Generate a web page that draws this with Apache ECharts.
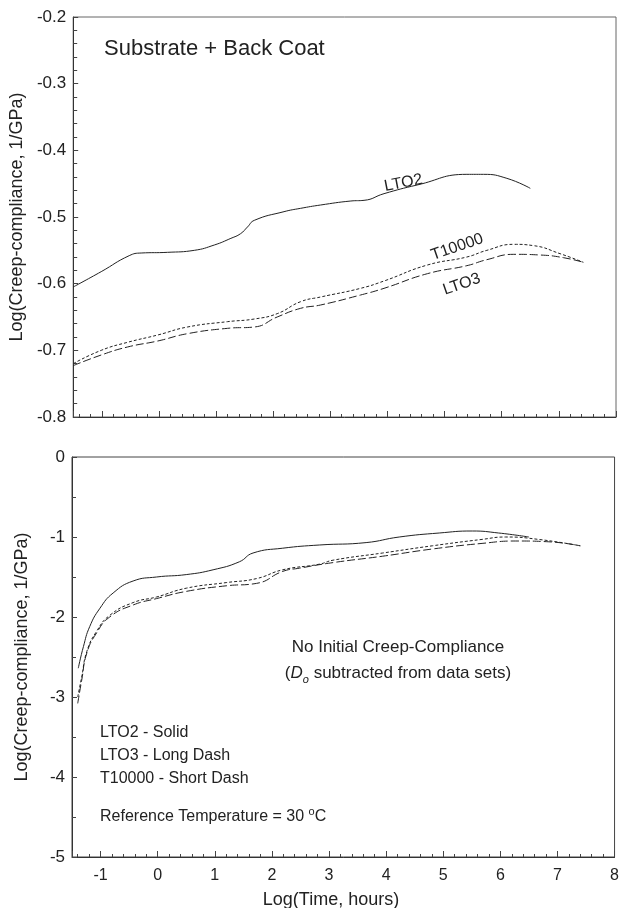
<!DOCTYPE html>
<html>
<head>
<meta charset="utf-8">
<script src="https://cdn.jsdelivr.net/npm/echarts@6/dist/echarts.min.js"></script>
<style>
html,body{margin:0;padding:0;background:#fff;}
#chart{width:622px;height:908px;}
</style>
</head>
<body>
<div id="chart"></div>
<script>
// ---- Data ----
const lto2TopX = [-1.5,-1.01,-0.52,-0.31,0.15,0.62,0.97,1.26,1.43,1.55,1.67,2.19,2.48,2.83,3.36,3.59,3.94,4.52,5.39,5.68,6.09,6.5];
const lto2TopY = [-0.605,-0.582,-0.558,-0.554,-0.553,-0.550,-0.542,-0.532,-0.525,-0.515,-0.505,-0.492,-0.487,-0.482,-0.476,-0.475,-0.465,-0.452,-0.436,-0.436,-0.442,-0.457];
const lto3TopX = [-1.5,-1.01,-0.55,-0.02,0.5,1.2,1.67,2.07,2.48,2.83,3.53,3.94,4.7,5.39,5.74,6.21,6.67,7.08,7.43];
const lto3TopY = [-0.723,-0.707,-0.695,-0.686,-0.675,-0.667,-0.665,-0.650,-0.637,-0.632,-0.617,-0.607,-0.585,-0.573,-0.564,-0.556,-0.557,-0.561,-0.568];
const t10000TopX = [-1.5,-1.01,-0.55,-0.02,0.5,1.2,1.67,2.07,2.48,2.83,3.53,3.94,4.7,5.39,5.74,6.21,6.56,7.02,7.43];
const t10000TopY = [-0.720,-0.700,-0.688,-0.677,-0.665,-0.657,-0.653,-0.645,-0.627,-0.620,-0.607,-0.596,-0.572,-0.560,-0.550,-0.541,-0.543,-0.555,-0.568];

const lto2BotX = [-1.39,-1.30,-1.19,-1.01,-0.78,-0.43,-0.02,0.5,0.97,1.43,1.67,2.19,2.83,3.65,4.23,4.93,5.51,5.97,6.5];
const lto2BotY = [-2.64,-2.37,-2.12,-1.89,-1.70,-1.55,-1.50,-1.47,-1.41,-1.31,-1.20,-1.14,-1.10,-1.07,-1.00,-0.95,-0.925,-0.95,-1.00];
const lto3BotX = [-1.40,-1.33,-1.24,-1.07,-0.84,-0.43,-0.02,0.5,1.2,1.73,2.19,2.48,3.07,3.94,4.81,5.68,6.27,6.85,7.40];
const lto3BotY = [-3.08,-2.79,-2.45,-2.20,-2.00,-1.85,-1.77,-1.68,-1.61,-1.58,-1.43,-1.39,-1.32,-1.24,-1.15,-1.08,-1.05,-1.06,-1.11];
const t10000BotX = [-1.40,-1.33,-1.24,-1.07,-0.84,-0.43,-0.02,0.5,1.2,1.73,2.19,2.83,3.07,3.94,4.81,5.68,6.09,6.67,7.40];
const t10000BotY = [-3.00,-2.75,-2.43,-2.18,-1.98,-1.82,-1.75,-1.64,-1.57,-1.52,-1.41,-1.34,-1.29,-1.20,-1.11,-1.03,-1.00,-1.03,-1.11];

const xMin = -1.5, xMax = 8;
const topYMin = -0.8, topYMax = -0.2, topYStep = 0.1;
const botYMin = -5, botYMax = 0, botYStep = 1;
const yTitle = 'Log(Creep-compliance, 1/GPa)';
const xTitle = 'Log(Time, hours)';

// curve label anchors (data coords)
const topLabels = [
  {text:'LTO2', x:4.28, y:-0.449, rot:11},
  {text:'T10000', x:5.22, y:-0.545, rot:19},
  {text:'LTO3', x:5.30, y:-0.601, rot:19}
];

// ---- Chart ----
const FONT = '"Liberation Sans", Arial, Helvetica, sans-serif';
const INK = '#222';
const chart = echarts.init(document.getElementById('chart'), null, {renderer:'canvas'});

function pair(xs, ys){ return xs.map((x,i)=>[x, ys[i]]); }

function xAxis(grid, labels){
  return {
    type:'value', gridIndex:grid, min:xMin, max:xMax, splitNumber:9,
    axisLine:{onZero:false, lineStyle:{color:'#333', width:1}},
    axisTick:{inside:true, length:6, lineStyle:{color:'#444'}},
    minorTick:{show:true, splitNumber:5, length:3, lineStyle:{color:'#444'}},
    splitLine:{show:false},
    axisLabel:{show:labels, fontSize:16, color:INK, fontFamily:FONT, margin:11,
      formatter:(v)=> Math.abs(v-Math.round(v))<1e-6 ? String(Math.round(v)) : ''}
  };
}
function yAxis(grid, min, max, step, minorSplit, dec){
  return {
    type:'value', gridIndex:grid, min:min, max:max, interval:step,
    name:yTitle, nameLocation:'middle', nameGap:41,
    nameTextStyle:{fontSize:18, color:INK, fontFamily:FONT},
    axisLine:{show:true, onZero:false, lineStyle:{color:'#333', width:1}},
    axisTick:{inside:true, length:5, lineStyle:{color:'#444'}},
    minorTick:{show:true, splitNumber:minorSplit, length:4, lineStyle:{color:'#444'}},
    splitLine:{show:false},
    axisLabel:{fontSize:17, color:INK, fontFamily:FONT, margin:7,
      formatter:(v)=> dec ? v.toFixed(dec) : String(Math.round(v))}
  };
}
function line(name, data, xi, yi, type){
  return {
    name:name, type:'line', xAxisIndex:xi, yAxisIndex:yi, data:data,
    showSymbol:false, smooth:0.5, silent:true,
    lineStyle:{color:INK, width:1, type:type}
  };
}

const option = {
  backgroundColor:'#fff',
  animation:false,
  grid:[
    {left:72, top:17, width:544, height:400, show:true, borderColor:'#666', borderWidth:1, backgroundColor:'transparent'},
    {left:72, top:457, width:544, height:400, show:true, borderColor:'#444', borderWidth:1, backgroundColor:'transparent'}
  ],
  xAxis:[xAxis(0,false), xAxis(1,true)],
  yAxis:[yAxis(0, topYMin, topYMax, topYStep, 5, 1), yAxis(1, botYMin, botYMax, botYStep, 2, 0)],
  series:[
    line('LTO2', pair(lto2TopX, lto2TopY), 0, 0, 'solid'),
    line('LTO3', pair(lto3TopX, lto3TopY), 0, 0, [8,3]),
    line('T10000', pair(t10000TopX, t10000TopY), 0, 0, [3,2]),
    line('LTO2', pair(lto2BotX, lto2BotY), 1, 1, 'solid'),
    line('LTO3', pair(lto3BotX, lto3BotY), 1, 1, [8,3]),
    line('T10000', pair(t10000BotX, t10000BotY), 1, 1, [3,2])
  ]
};
chart.setOption(option);

const g = [];
topLabels.forEach(l=>{
  const p = chart.convertToPixel({xAxisIndex:0, yAxisIndex:0}, [l.x, l.y]);
  g.push({type:'text', x:p[0], y:p[1], rotation:l.rot*Math.PI/180,
    style:{text:l.text, fontSize:16, fill:INK, fontFamily:FONT, align:'center', verticalAlign:'middle'}});
});
g.push({type:'text', x:331, y:900, style:{text:xTitle, fontSize:18, fill:INK, fontFamily:FONT, align:'center', verticalAlign:'middle'}});
g.push({type:'text', x:104, y:49, style:{text:'Substrate + Back Coat', fontSize:22, fill:INK, fontFamily:FONT, align:'left', verticalAlign:'middle'}});
g.push({type:'text', x:398, y:647, style:{text:'No Initial Creep-Compliance', fontSize:17, fill:INK, fontFamily:FONT, align:'center', verticalAlign:'middle'}});
g.push({type:'text', x:398, y:673, style:{
  text:'({d|D}{sub|o} subtracted from data sets)', fontSize:17, fill:INK, fontFamily:FONT, align:'center', verticalAlign:'middle',
  rich:{
    d:{fontSize:17, fontStyle:'italic', fontFamily:FONT, fill:INK, lineHeight:24, verticalAlign:'middle'},
    sub:{fontSize:11, fontStyle:'italic', fontFamily:FONT, fill:INK, lineHeight:24, verticalAlign:'bottom'}
  }}});
const legendLines = ['LTO2 - Solid','LTO3 - Long Dash','T10000 - Short Dash'];
const legendY = [733, 756, 779];
legendLines.forEach((t,i)=>{
  g.push({type:'text', x:100, y:legendY[i], style:{text:t, fontSize:16, fill:INK, fontFamily:FONT, align:'left', verticalAlign:'middle'}});
});
g.push({type:'text', x:100, y:817, style:{
  text:'Reference Temperature = 30 {sup|o}C', fontSize:16, fill:INK, fontFamily:FONT, align:'left', verticalAlign:'middle',
  rich:{sup:{fontSize:11, fontFamily:FONT, fill:INK, lineHeight:22, verticalAlign:'top'}}}});
chart.setOption({graphic:g});
</script>
</body>
</html>
